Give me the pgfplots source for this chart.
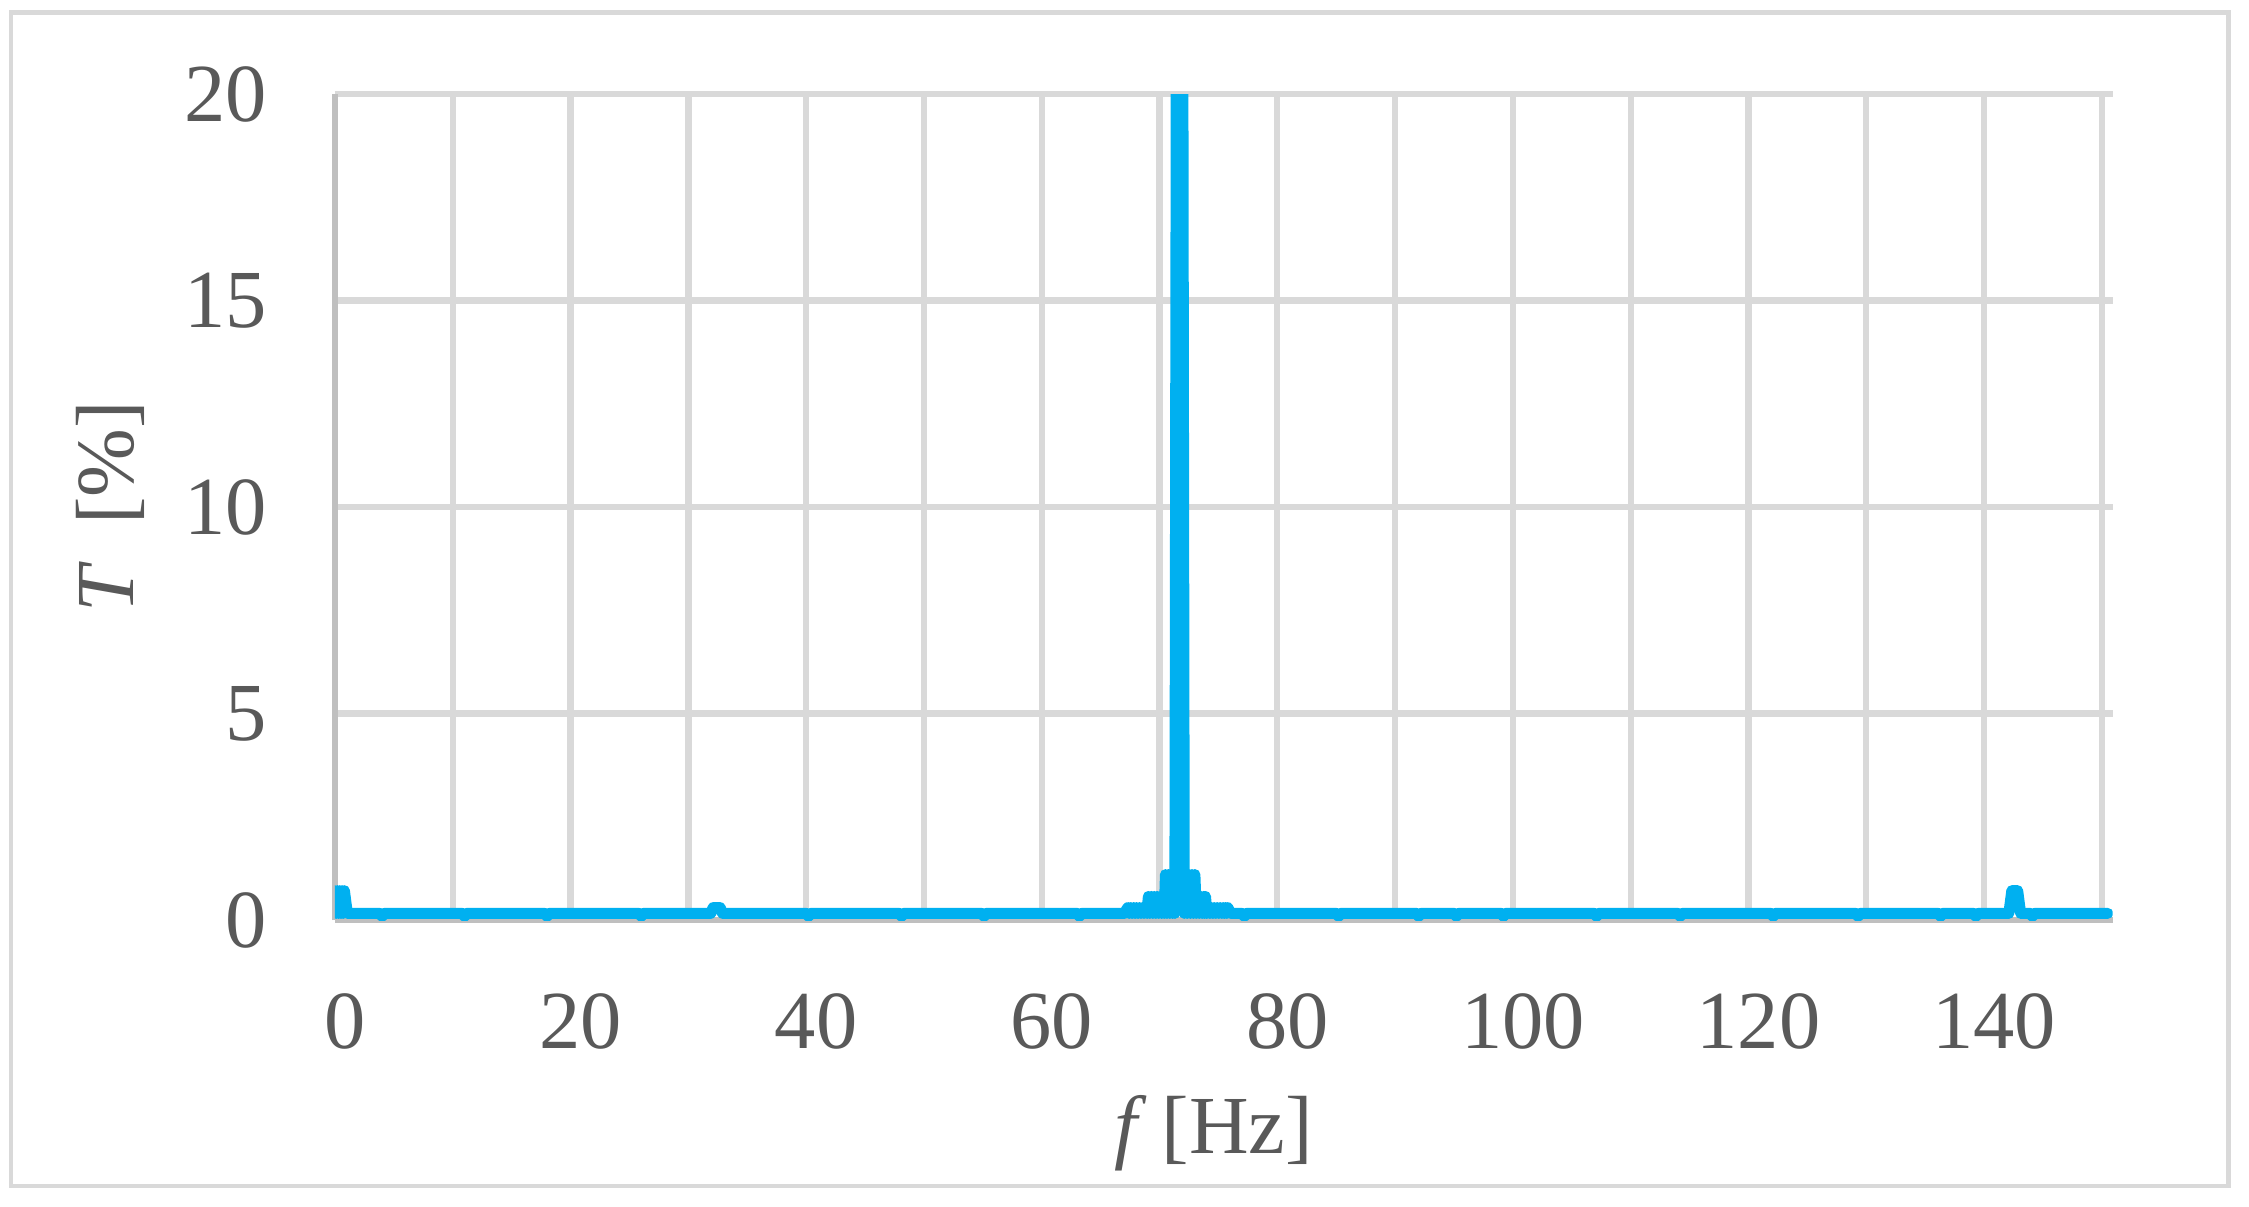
\documentclass[border=0pt]{standalone}
\usepackage{fontspec}
\setmainfont{Liberation Serif}
\usepackage{pgfplots}
\pgfplotsset{compat=1.18}
\definecolor{spec}{HTML}{00B0F0}
\definecolor{gridc}{HTML}{D9D9D9}
\definecolor{axisc}{HTML}{BFBFBF}
\definecolor{txt}{HTML}{595959}
\begin{document}
\begin{tikzpicture}
\useasboundingbox (-67pt,-57.2pt) rectangle (382.8pt,184pt);
\draw[gridc, line width=0.9pt] (-64.8pt,-53.2pt) rectangle (378.7pt,181.5pt);
\begin{axis}[
  scale only axis, width=355.5pt, height=165.2pt,
  xmin=0, xmax=150.9, ymin=0, ymax=20,
  xtick={0,20,...,140}, minor xtick={10,30,...,150},
  ytick={0,5,...,20},
  grid=both,
  major grid style={gridc, line width=1.25pt},
  minor grid style={gridc, line width=1.25pt},
  axis x line*=bottom, axis y line*=left,
  axis line style={axisc, line width=1.3pt, -},
  tick style={draw=none},
  /pgf/number format/assume math mode=true,
  tick label style={font=\fontsize{16.5}{19}\selectfont, text=txt, inner sep=0pt},
  xticklabel style={anchor=center, yshift=-20.2pt, xshift=2pt},
  yticklabel style={anchor=east, xshift=-13.4pt},
  xlabel={\textit{f}\hspace{0.18em}[Hz]},
  ylabel={\textit{T}\hspace{0.45em}[\%]},
  label style={font=\fontsize{16.5}{19}\selectfont, text=txt},
  xlabel style={at={(rel axis cs:0.5,0)}, anchor=center, yshift=-42.6pt, xshift=-2pt},
  ylabel style={at={([xshift=-45pt]rel axis cs:0,0.5)}, anchor=center},
]
\addplot[color=spec, mark=none, line width=2.2pt, line join=round, line cap=round] coordinates {
  (0,0.71) (0.1,0.16) (0.2,0.71) (0.3,0.16) (0.4,0.71) (0.5,0.16) (0.6,0.71) (0.7,0.16) (0.8,0.71) (1.05,0.16)
  (3.8,0.16) (4.0,0.09) (4.2,0.16)
  (10.8,0.16) (11.0,0.09) (11.2,0.16)
  (17.8,0.16) (18.0,0.09) (18.2,0.16)
  (25.8,0.16) (26.0,0.09) (26.2,0.16)
  (31.9,0.16) (32.1,0.30) (32.7,0.30) (32.9,0.16)
  (40.0,0.16) (40.2,0.09) (40.4,0.16)
  (47.9,0.16) (48.1,0.09) (48.3,0.16)
  (54.9,0.16) (55.1,0.09) (55.3,0.16)
  (63.0,0.16) (63.2,0.09) (63.4,0.16)
  (67.0,0.16)
  (67.3,0.30) (67.425,0.16) (67.55,0.30) (67.675,0.16) (67.8,0.30) (67.925,0.16) (68.05,0.30) (68.175,0.16)
  (68.3,0.30) (68.425,0.16) (68.55,0.30) (68.675,0.16) (68.8,0.30) (68.925,0.16)
  (69.05,0.57) (69.175,0.16) (69.3,0.57) (69.425,0.16) (69.55,0.57) (69.675,0.16) (69.8,0.57) (69.925,0.16)
  (70.05,0.57) (70.175,0.16) (70.3,0.57) (70.4,0.16)
  (70.5,1.10) (70.625,0.16) (70.75,1.10) (70.875,0.16) (71.0,1.10) (71.1,0.16) (71.2,1.10) (71.3,0.16)
  (71.45,26) (71.95,26)
  (72.1,0.16) (72.2,1.10) (72.35,0.16) (72.5,1.10) (72.625,0.16) (72.75,1.10) (72.875,0.16) (73.0,1.10) (73.125,0.16)
  (73.25,0.57) (73.375,0.16) (73.5,0.57) (73.625,0.16) (73.75,0.57) (73.825,0.16) (73.9,0.57) (74.025,0.16)
  (74.15,0.30) (74.275,0.16) (74.4,0.30) (74.525,0.16) (74.65,0.30) (74.775,0.16) (74.9,0.30) (75.025,0.16)
  (75.15,0.30) (75.275,0.16) (75.4,0.30) (75.5,0.16) (75.6,0.30) (75.7,0.16) (75.8,0.30) (76.05,0.16)
  (77.0,0.16) (77.2,0.09) (77.4,0.16)
  (85.0,0.16) (85.2,0.09) (85.4,0.16)
  (91.8,0.16) (92.0,0.09) (92.2,0.16)
  (95.0,0.16) (95.2,0.09) (95.4,0.16)
  (99.0,0.16) (99.2,0.09) (99.4,0.16)
  (106.9,0.16) (107.1,0.09) (107.3,0.16)
  (114.0,0.16) (114.2,0.09) (114.4,0.16)
  (121.9,0.16) (122.1,0.09) (122.3,0.16)
  (129.1,0.16) (129.3,0.09) (129.5,0.16)
  (136.1,0.16) (136.3,0.09) (136.5,0.16)
  (139.1,0.16) (139.3,0.09) (139.5,0.16)
  (142.1,0.16) (142.35,0.71) (142.85,0.71) (143.1,0.16)
  (143.9,0.16) (144.1,0.09) (144.3,0.16)
  (150.5,0.16)
};
\end{axis}
\end{tikzpicture}
\end{document}
